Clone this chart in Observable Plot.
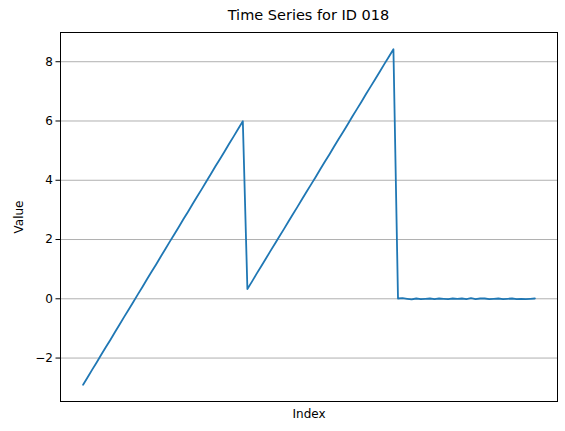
<!DOCTYPE html>
<html>
<head>
<meta charset="utf-8">
<script src="https://cdn.jsdelivr.net/npm/d3@7"></script>
<script src="https://cdn.jsdelivr.net/npm/@observablehq/plot@0.6"></script>
<style>
  body { margin: 0; background: #fff; font-family: "DejaVu Sans", sans-serif; }
  #title { width: 565px; box-sizing: border-box; padding: 4px 8px 0 60px; height: 26px;
           line-height: 22px; text-align: center; font-size: 14.5px; color: #000; }
</style>
</head>
<body>
<div id="title">Time Series for ID 018</div>
<div id="chart"></div>
<script>
// valeurs (index 0..99)
const values = [
  -2.90, -2.65, -2.39, -2.14, -1.88, -1.63, -1.38, -1.12, -0.87, -0.61,
  -0.36, -0.11, 0.15, 0.40, 0.66, 0.91, 1.16, 1.42, 1.67, 1.93,
  2.18, 2.43, 2.69, 2.94, 3.20, 3.45, 3.70, 3.96, 4.21, 4.47,
  4.72, 4.97, 5.23, 5.48, 5.74, 5.99,
  0.33, 0.58, 0.84, 1.09, 1.34, 1.60, 1.85, 2.10, 2.35, 2.61,
  2.86, 3.11, 3.37, 3.62, 3.87, 4.12, 4.38, 4.63, 4.88, 5.14,
  5.39, 5.64, 5.89, 6.15, 6.40, 6.65, 6.91, 7.16, 7.41, 7.66,
  7.92, 8.17, 8.42,
  0.01, 0.02, 0.00, -0.02, 0.01, -0.01, 0.00, 0.01, -0.01, 0.01,
  0.00, -0.01, 0.01, 0.00, 0.01, -0.01, 0.02, -0.01, 0.01, 0.01,
  -0.01, 0.00, 0.01, -0.01, 0.00, 0.01, -0.01, 0.00, -0.01, 0.00, 0.01
];
const yTicks = [-2, 0, 2, 4, 6, 8];

const data = values.map((v, i) => ({ index: i, value: v }));

// marges de 5% comme matplotlib
const n = values.length - 1;
const yMin = d3.min(values), yMax = d3.max(values);
const yPad = (yMax - yMin) * 0.05;

const chart = Plot.plot({
  width: 565,
  height: 405,
  marginLeft: 60,
  marginRight: 8,
  marginTop: 6,
  marginBottom: 30,
  style: { fontFamily: "DejaVu Sans, sans-serif", fontSize: "12px", color: "#000", background: "#fff" },
  x: { domain: [-n * 0.05, n * 1.05] },
  y: { domain: [yMin - yPad, yMax + yPad] },
  marks: [
    Plot.ruleY(yTicks, { stroke: "#b0b0b0", strokeWidth: 1 }),
    Plot.lineY(data, { x: "index", y: "value", stroke: "#1f77b4", strokeWidth: 1.8 }),
    Plot.frame({ stroke: "#000", strokeWidth: 1 }),
    Plot.axisY({ ticks: yTicks, tickSize: 4.5, tickPadding: 3, fontSize: 12,
                 label: "Value", labelAnchor: "center", labelArrow: "none", labelOffset: 46 }),
    Plot.axisX({ ticks: [], label: "Index", labelAnchor: "center", labelArrow: "none",
                 labelOffset: 16, fontSize: 12 })
  ]
});

d3.select('#chart').append(() => chart);
</script>
</body>
</html>
